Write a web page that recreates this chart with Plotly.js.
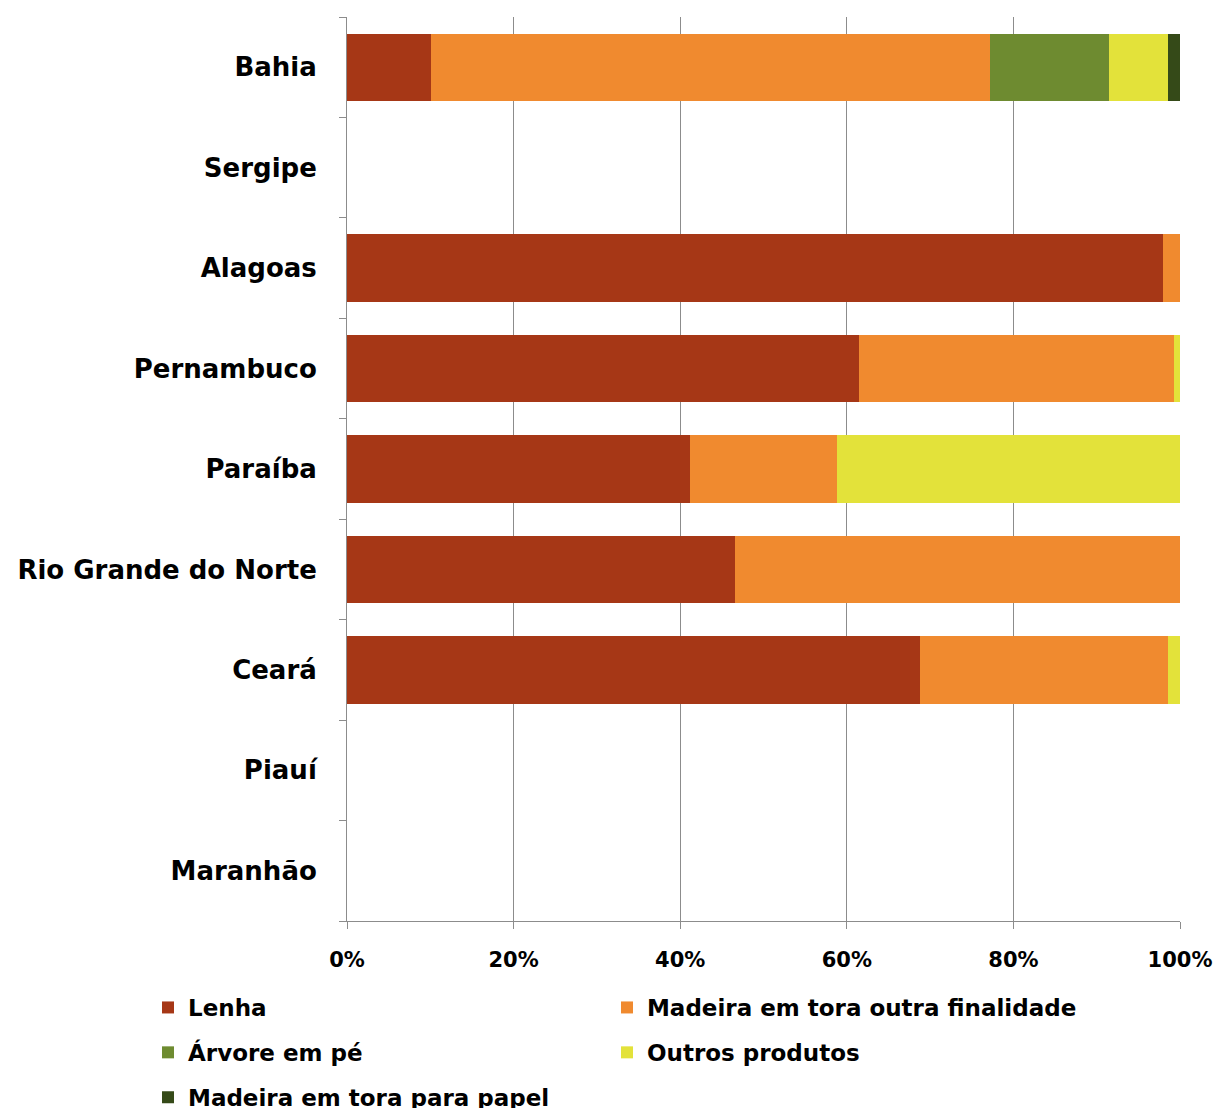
<!DOCTYPE html>
<html>
<head>
<meta charset="utf-8">
<script src="https://cdn.plot.ly/plotly-3.0.1.min.js"></script>
<style>html,body{margin:0;padding:0;background:#fff;}#chart{width:1215px;height:1108px;}</style>
</head>
<body>
<div id="chart"></div>
<script>
// Categories (bottom to top as drawn)
var states = ["Maranhão", "Piauí", "Ceará", "Rio Grande do Norte", "Paraíba", "Pernambuco", "Alagoas", "Sergipe", "Bahia"];

// Shares (%) per product
var lenha        = [null, null, 68.8, 46.6, 41.2, 61.5, 98.0, null, 10.1];
var madeiraOutra = [null, null, 29.8, 53.4, 17.6, 37.8,  2.0, null, 67.1];
var arvoreEmPe   = [null, null,  0.0,  0.0,  0.0,  0.0,  0.0, null, 14.3];
var outros       = [null, null,  1.4,  0.0, 41.2,  0.7,  0.0, null,  7.1];
var papel        = [null, null,  0.0,  0.0,  0.0,  0.0,  0.0, null,  1.4];

var xTickVals = [0, 20, 40, 60, 80, 100];
var xTickText = ["0%", "20%", "40%", "60%", "80%", "100%"];

var FONT = "DejaVu Sans, sans-serif";

function bar(name, vals, color, legend, group) {
  return {
    type: "bar", orientation: "h", name: name, x: vals, y: states,
    marker: {color: color, line: {width: 0}},
    legend: legend, legendgroup: group,
    hoverinfo: "x+y+name"
  };
}

var data = [
  bar("Lenha", lenha, "#A63716", "legend", "g1"),
  bar("Madeira em tora outra finalidade", madeiraOutra, "#F08A2F", "legend2", "g2"),
  bar("Árvore em pé", arvoreEmPe, "#6E8B30", "legend", "g3"),
  bar("Outros produtos", outros, "#E3E23A", "legend2", "g4"),
  bar("Madeira em tora para papel", papel, "#354A18", "legend", "g5")
];

var legendFont = {family: FONT, size: 23, color: "#000", weight: "bold"};

var layout = {
  width: 1215, height: 1108,
  margin: {l: 347, r: 35, t: 17, b: 187, autoexpand: false},
  barmode: "stack",
  bargap: 0.33,
  paper_bgcolor: "#fff", plot_bgcolor: "#fff",
  showlegend: true,
  xaxis: {
    range: [0, 100], tickvals: xTickVals, ticktext: xTickText,
    showgrid: true, gridcolor: "#8c8c8c", gridwidth: 1,
    showline: true, linecolor: "#8c8c8c", linewidth: 1,
    ticks: "outside", ticklen: 7, tickcolor: "#8c8c8c",
    ticklabelstandoff: 13,
    zeroline: false,
    tickfont: {family: FONT, size: 21, color: "#000", weight: "bold"},
    automargin: false,
    fixedrange: true
  },
  yaxis: {
    type: "category", categoryorder: "array", categoryarray: states,
    range: [-0.5, 8.5],
    showgrid: false,
    showline: true, linecolor: "#8c8c8c", linewidth: 1,
    ticks: "outside", ticklen: 7, tickcolor: "#8c8c8c",
    tickson: "boundaries",
    ticklabelstandoff: 24,
    tickfont: {family: FONT, size: 26, color: "#000", weight: "bold"},
    automargin: false,
    fixedrange: true
  },
  legend: {
    orientation: "v",
    x: -0.2389, xanchor: "left", y: -0.0719, yanchor: "top",
    traceorder: "grouped", tracegroupgap: 12,
    font: legendFont, bgcolor: "rgba(0,0,0,0)"
  },
  legend2: {
    orientation: "v",
    x: 0.3121, xanchor: "left", y: -0.0719, yanchor: "top",
    traceorder: "grouped", tracegroupgap: 12,
    font: legendFont, bgcolor: "rgba(0,0,0,0)"
  }
};

Plotly.newPlot("chart", data, layout, {displayModeBar: false, responsive: false});
</script>
</body>
</html>
